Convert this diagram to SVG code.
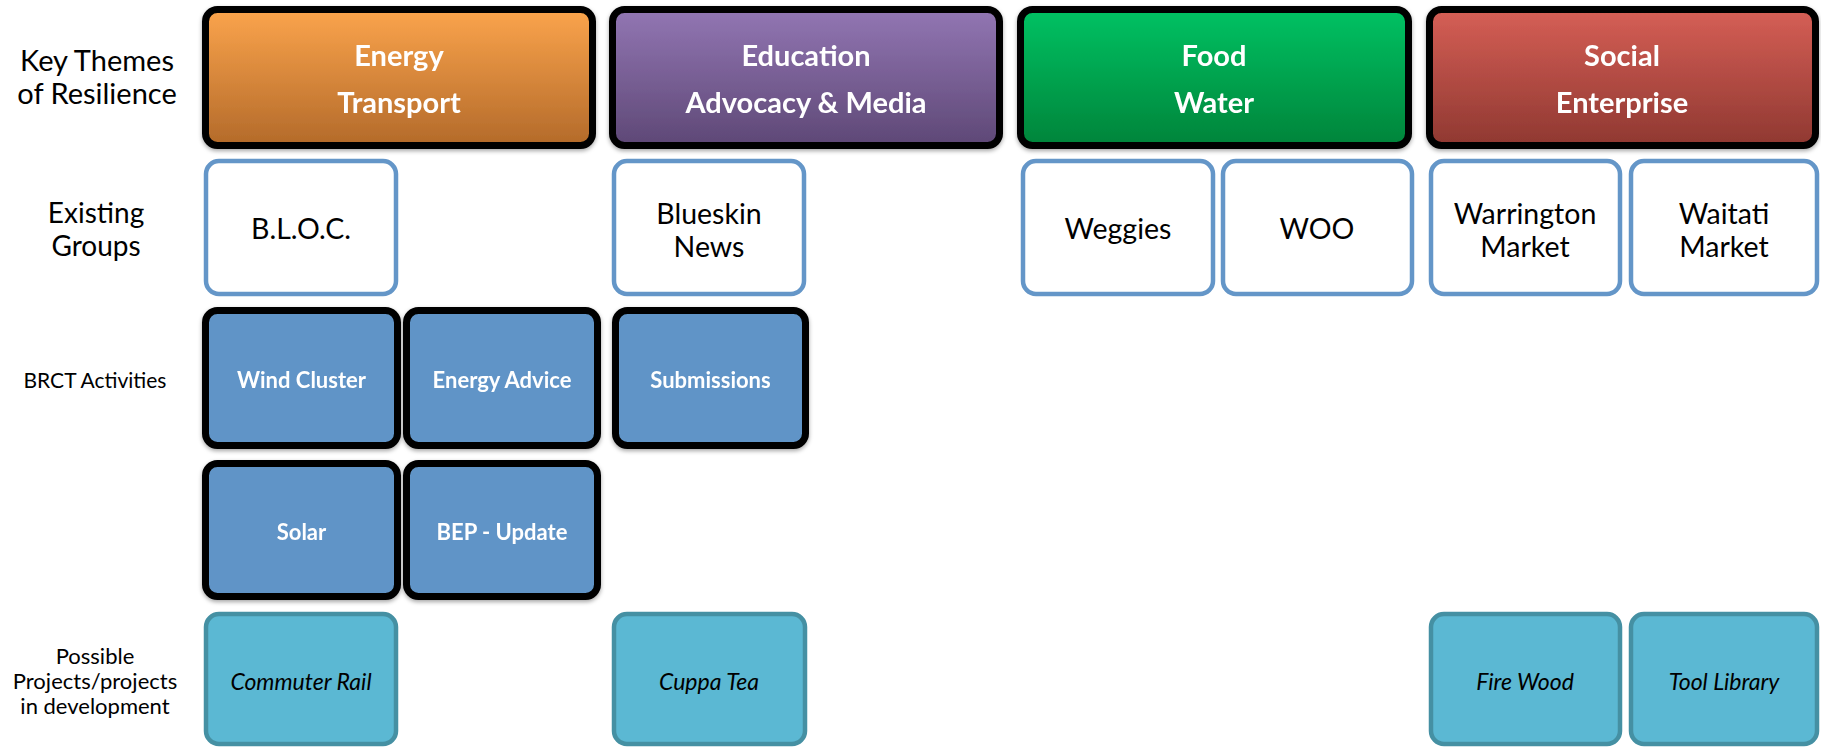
<svg xmlns="http://www.w3.org/2000/svg" width="1821" height="748" viewBox="0 0 1821 748">
<defs>
<linearGradient id="gEnergy" x1="0" y1="0" x2="0" y2="1"><stop offset="0" stop-color="#FBA44C"/><stop offset="1" stop-color="#B36A2A"/></linearGradient>
<linearGradient id="gEdu" x1="0" y1="0" x2="0" y2="1"><stop offset="0" stop-color="#9276B3"/><stop offset="1" stop-color="#5E4876"/></linearGradient>
<linearGradient id="gFood" x1="0" y1="0" x2="0" y2="1"><stop offset="0" stop-color="#00C263"/><stop offset="1" stop-color="#00843A"/></linearGradient>
<linearGradient id="gSocial" x1="0" y1="0" x2="0" y2="1"><stop offset="0" stop-color="#D65F56"/><stop offset="1" stop-color="#8F3831"/></linearGradient>
<filter id="sh" x="-10%" y="-10%" width="120%" height="125%"><feDropShadow dx="0" dy="2" stdDeviation="2" flood-color="#000" flood-opacity="0.35"/></filter>
</defs>
<style>
.theme{stroke:#000;stroke-width:7}
.grp{fill:#fff;stroke:#6496C8;stroke-width:4.5}
.act{fill:#6094C7;stroke:#000;stroke-width:7}
.prj{fill:#5BB8D3;stroke:#4590A3;stroke-width:4.5}
text{font-family:Lato,"Liberation Sans",sans-serif;text-anchor:middle}
.tt{fill:#fff;font-weight:bold;font-size:29px}
.gt{fill:#000;font-size:28.5px}
.at{fill:#fff;font-weight:bold;font-size:22px}
.pt{fill:#000;font-style:italic;font-size:23px}
.lab{fill:#000}
</style>
<rect width="1821" height="748" fill="#fff"/>
<g id="row-labels">
<text class="lab" x="97" y="71" font-size="29">Key Themes</text>
<text class="lab" x="97" y="104" font-size="29">of Resilience</text>
<text class="lab" x="96" y="223" font-size="28">Existing</text>
<text class="lab" x="96" y="256" font-size="28">Groups</text>
<text class="lab" x="95" y="388" font-size="21">BRCT Activities</text>
<text class="lab" x="95" y="664" font-size="22">Possible</text>
<text class="lab" x="95" y="689" font-size="22">Projects/projects</text>
<text class="lab" x="95" y="714" font-size="22">in development</text>
</g>
<g id="connectors"></g>
<g id="theme-energy" filter="url(#sh)"><rect class="theme" x="205.5" y="9.5" width="387" height="136" rx="12" fill="url(#gEnergy)"/><text class="tt" x="399" y="66">Energy</text><text class="tt" x="399" y="113">Transport</text></g>
<g id="theme-education" filter="url(#sh)"><rect class="theme" x="612.5" y="9.5" width="387" height="136" rx="12" fill="url(#gEdu)"/><text class="tt" x="806" y="66">Education</text><text class="tt" x="806" y="113">Advocacy &amp; Media</text></g>
<g id="theme-food" filter="url(#sh)"><rect class="theme" x="1020.5" y="9.5" width="388" height="136" rx="12" fill="url(#gFood)"/><text class="tt" x="1214" y="66">Food</text><text class="tt" x="1214" y="113">Water</text></g>
<g id="theme-social" filter="url(#sh)"><rect class="theme" x="1429.5" y="9.5" width="386" height="136" rx="12" fill="url(#gSocial)"/><text class="tt" x="1622" y="66">Social</text><text class="tt" x="1622" y="113">Enterprise</text></g>

<g id="grp-bloc"><rect class="grp" x="206" y="161" width="190" height="133" rx="13"/><text class="gt" x="301" y="239">B.L.O.C.</text></g>
<g id="grp-blueskin"><rect class="grp" x="614" y="161" width="190" height="133" rx="13"/><text class="gt" x="709" y="224">Blueskin</text><text class="gt" x="709" y="257">News</text></g>
<g id="grp-weggies"><rect class="grp" x="1023" y="161" width="190" height="133" rx="13"/><text class="gt" x="1118" y="239">Weggies</text></g>
<g id="grp-woo"><rect class="grp" x="1223" y="161" width="189" height="133" rx="13"/><text class="gt" x="1317" y="239">WOO</text></g>
<g id="grp-warrington"><rect class="grp" x="1431" y="161" width="189" height="133" rx="13"/><text class="gt" x="1525" y="224">Warrington</text><text class="gt" x="1525" y="257">Market</text></g>
<g id="grp-waitati"><rect class="grp" x="1631" y="161" width="186" height="133" rx="13"/><text class="gt" x="1724" y="224">Waitati</text><text class="gt" x="1724" y="257">Market</text></g>

<g id="act-wind" filter="url(#sh)"><rect class="act" x="205.5" y="310.5" width="192" height="135" rx="12"/><text class="at" x="301.5" y="388">Wind Cluster</text></g>
<g id="act-energy-advice" filter="url(#sh)"><rect class="act" x="406.5" y="310.5" width="191" height="135" rx="12"/><text class="at" x="502" y="388">Energy Advice</text></g>
<g id="act-submissions" filter="url(#sh)"><rect class="act" x="615.5" y="310.5" width="190" height="135" rx="12"/><text class="at" x="710.5" y="388">Submissions</text></g>
<g id="act-solar" filter="url(#sh)"><rect class="act" x="205.5" y="463.5" width="192" height="133" rx="12"/><text class="at" x="301.5" y="540">Solar</text></g>
<g id="act-bep" filter="url(#sh)"><rect class="act" x="406.5" y="463.5" width="191" height="133" rx="12"/><text class="at" x="502" y="540">BEP - Update</text></g>

<g id="prj-commuter"><rect class="prj" x="206" y="614" width="190" height="130" rx="13"/><text class="pt" x="301" y="690">Commuter Rail</text></g>
<g id="prj-cuppa"><rect class="prj" x="614" y="614" width="191" height="130" rx="13"/><text class="pt" x="709" y="690">Cuppa Tea</text></g>
<g id="prj-firewood"><rect class="prj" x="1431" y="614" width="189" height="130" rx="13"/><text class="pt" x="1525" y="690">Fire Wood</text></g>
<g id="prj-tool"><rect class="prj" x="1631" y="614" width="186" height="130" rx="13"/><text class="pt" x="1724" y="690">Tool Library</text></g>
</svg>
